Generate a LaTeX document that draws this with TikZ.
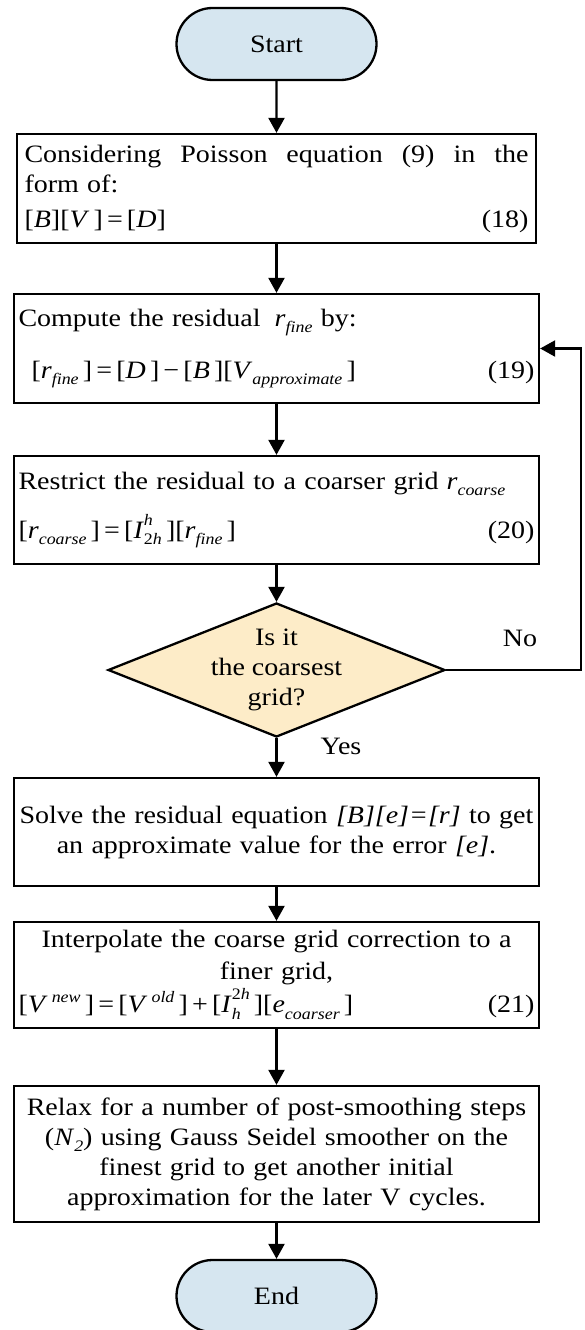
\documentclass[tikz,border=0pt]{standalone}
\usepackage{fontspec}
\setmainfont{Liberation Serif}[FakeStretch=1.12]
\usetikzlibrary{shapes.geometric,shapes.misc,arrows.meta}
\definecolor{termblue}{RGB}{214,230,240}
\definecolor{decfill}{RGB}{253,236,200}
\newcommand{\iv}[1]{\textit{#1}}
\newcommand{\mysub}[1]{\raisebox{-0.55ex}{\fontsize{16}{16}\selectfont\itshape #1}}
\newcommand{\mysup}[1]{\raisebox{0.95ex}{\fontsize{16}{16}\selectfont\itshape #1}}
\newcommand{\hisup}[1]{\raisebox{1.15ex}{\fontsize{16}{16}\selectfont\itshape #1}}
\newcommand{\supsub}[2]{\rlap{\hisup{#1}}\mysub{#2}}
\newcommand{\subsup}[2]{\rlap{\mysub{#1}}\hisup{#2}}
\tikzset{
  txt/.style={font=\fontsize{25}{30}\selectfont},
  box/.style={txt, draw, line width=2.3pt, rectangle, inner sep=0pt,
    minimum width=525pt, text width=516pt, align=center},
  term/.style={txt, draw, line width=2.3pt, rounded rectangle, fill=termblue,
    minimum width=200pt, minimum height=72pt, inner sep=0pt},
  decision/.style={draw, line width=2.3pt, diamond, fill=decfill,
    minimum width=337pt, minimum height=134pt, inner sep=0pt},
  flow/.style={line width=2.3pt, -{Triangle[width=16pt,length=15pt]}},
}
\begin{document}
\begin{tikzpicture}[x=1pt,y=-1pt]
\useasboundingbox (0,0) rectangle (585,1330);
\clip (0,0) rectangle (585,1330);

\node[term] (start) at (276.5,44) {Start};

\node[box, minimum width=519pt, text width=504pt, minimum height=109pt] (b1) at (276.5,188.5)
  {Considering\hfill Poisson\hfill equation\hfill (9)\hfill in\hfill the\\
   form of:\hfill\null\\[5pt]
   [\iv{B}][\iv{V}\,]\,=\,[\iv{D}]\hfill (18)\hspace*{8pt}};

\node[box, minimum height=109pt] (b2) at (276.5,348.5)
  {Compute the residual\hspace{14pt}\iv{r}\mysub{fine} by:\hfill\null\\[22pt]
   \hspace*{13pt}[\iv{r}\mysub{fine}\,]\,=\,[\iv{D}\,]\,−\,[\iv{B}\,][\iv{V}\mysub{approximate}\,]\hfill (19)\hspace*{12pt}};

\node[box, minimum height=108pt] (b3) at (276.5,510)
  {Restrict the residual to a coarser grid\hspace{8pt}\iv{r}\mysub{coarse}\hfill\null\\[17pt]
   [\iv{r}\mysub{coarse}\,]\,=\,[\iv{I}\supsub{h}{{\upshape 2}h}\,][\iv{r}\mysub{fine}\,]\hfill (20)\hspace*{12pt}};

\node[decision, label={[name=dtext, txt, align=center]center:Is it\\the coarsest\\grid?}] (d) at (276.5,670) {};

\node[box, minimum height=108pt] (b4) at (276.5,832)
  {Solve the residual equation \iv{[B][e]=[r]} to get\\
   an approximate value for the error \iv{[e]}.};

\node[box, minimum height=106pt] (b5) at (276.5,975)
  {Interpolate the coarse grid correction to a\\[2pt]
   finer grid,\\[3pt]
   [\iv{V}\,\mysup{new}\,]\,=\,[\iv{V}\,\mysup{old}\,]\,+\,[\iv{I}\subsup{h}{{\upshape 2}h}\,][\iv{e}\mysub{coarser}\,]\hfill (21)\hspace*{12pt}};

\node[box, minimum height=136pt] (b6) at (276.5,1154)
  {Relax for a number of post-smoothing steps\\
   (\iv{N}\mysub{2}) using Gauss Seidel smoother on the\\
   finest grid to get another initial\\
   approximation for the later V cycles.};

\node[term] (end) at (276.5,1296) {End};

\node[txt] (nolbl) at (520,638) {No};
\node[txt] (yeslbl) at (341,746) {Yes};
\coordinate (loopc) at (581,670);

\draw[flow] (start) -- (b1);
\draw[flow] (b1) -- (b2);
\draw[flow] (b2) -- (b3);
\draw[flow] (b3) -- (d);
\draw[flow] (d) -- (b4);
\draw[flow] (b4) -- (b5);
\draw[flow] (b5) -- (b6);
\draw[flow] (b6) -- (end);
\draw[flow] (d.east) -- (loopc) |- (b2.east);
\end{tikzpicture}
\end{document}
